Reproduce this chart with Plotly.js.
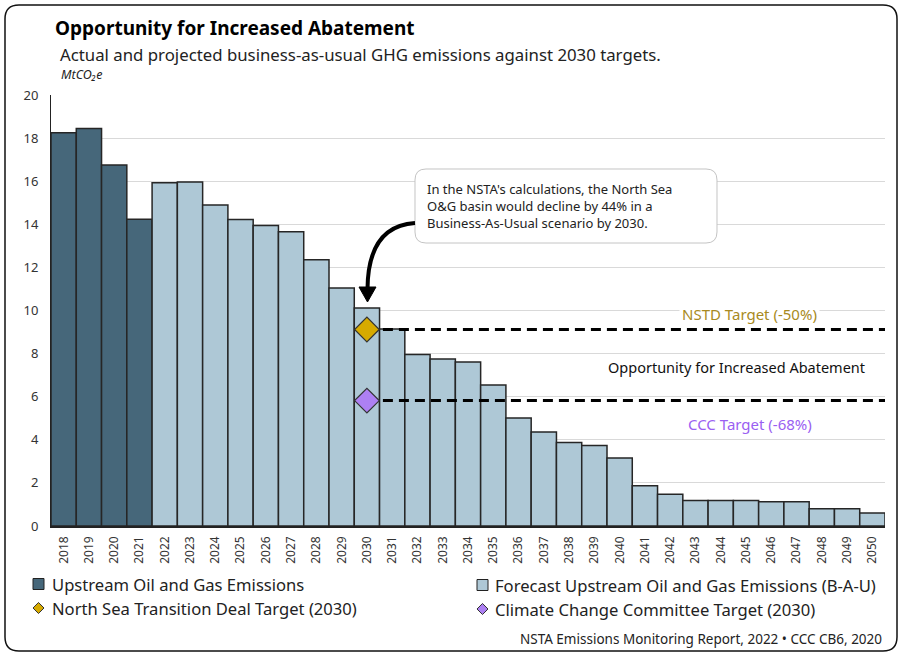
<!DOCTYPE html>
<html><head><meta charset="utf-8">
<script src="https://cdn.plot.ly/plotly-3.0.1.min.js"></script>
<style>html,body{margin:0;padding:0;background:#fff}#chart{width:902px;height:656px}</style>
</head><body><div id="chart"></div>
<script>
// ---- data ----
const actualYears = [2018, 2019, 2020, 2021];
const actualValues = [18.25, 18.45, 16.75, 14.23];
const forecastYears = [2022, 2023, 2024, 2025, 2026, 2027, 2028, 2029, 2030, 2031, 2032, 2033, 2034, 2035, 2036, 2037, 2038, 2039, 2040, 2041, 2042, 2043, 2044, 2045, 2046, 2047, 2048, 2049, 2050];
const forecastValues = [15.93, 15.96, 14.9, 14.22, 13.94, 13.65, 12.35, 11.04, 10.12, 9.14, 7.96, 7.75, 7.61, 6.54, 5.01, 4.36, 3.88, 3.73, 3.16, 1.87, 1.47, 1.18, 1.18, 1.18, 1.12, 1.12, 0.8, 0.8, 0.6];
const targetYear = 2030;
const nstdTarget = 9.12;
const cccTarget = 5.82;
const seriesNames = ['Upstream Oil and Gas Emissions', 'Forecast Upstream Oil and Gas Emissions (B-A-U)', 'North Sea Transition Deal Target (2030)', 'Climate Change Committee Target (2030)'];

// ---- styling / geometry ----
const W = 902, H = 656, M = {l: 51, r: 17, t: 95, b: 130};
const PW = W - M.l - M.r, PH = H - M.t - M.b;
const px = x => (x - M.l) / PW;
const py = y => (H - M.b - y) / PH;
const FONT = 'Noto Sans, Open Sans, sans-serif';
const C = {dark: '#46677a', light: '#aec8d6', edge: '#262626', gold: '#d6aa00', goldText: '#a88a22', purple: '#ad80f3', purpleText: '#9a60f2'};
const firstYear = actualYears[0], lastYear = forecastYears[forecastYears.length - 1];

function roundRect(x0, y0, x1, y1, r) {
  const P = (x, y) => px(x).toFixed(5) + ',' + py(y).toFixed(5);
  return 'M' + P(x0 + r, y0) + ' L' + P(x1 - r, y0) + ' Q' + P(x1, y0) + ' ' + P(x1, y0 + r) +
    ' L' + P(x1, y1 - r) + ' Q' + P(x1, y1) + ' ' + P(x1 - r, y1) +
    ' L' + P(x0 + r, y1) + ' Q' + P(x0, y1) + ' ' + P(x0, y1 - r) +
    ' L' + P(x0, y0 + r) + ' Q' + P(x0, y0) + ' ' + P(x0 + r, y0) + ' Z';
}
function diamondPath(cx, cy, r) {
  const P = (x, y) => px(x).toFixed(5) + ',' + py(y).toFixed(5);
  return 'M' + P(cx, cy - r) + ' L' + P(cx + r, cy) + ' L' + P(cx, cy + r) + ' L' + P(cx - r, cy) + ' Z';
}

const traces = [
  {type: 'bar', x: actualYears, y: actualValues, name: seriesNames[0], width: 1,
   marker: {color: C.dark, line: {color: C.edge, width: 1.5}}, hoverinfo: 'x+y'},
  {type: 'bar', x: forecastYears, y: forecastValues, name: seriesNames[1], width: 1,
   marker: {color: C.light, line: {color: C.edge, width: 1.5}}, hoverinfo: 'x+y'},
  {type: 'scatter', mode: 'lines', x: [targetYear, lastYear + 0.5], y: [nstdTarget, nstdTarget],
   line: {color: '#000', width: 3, dash: '10px,6px'}, hoverinfo: 'skip'},
  {type: 'scatter', mode: 'lines', x: [targetYear, lastYear + 0.5], y: [cccTarget, cccTarget],
   line: {color: '#000', width: 3, dash: '10px,6px'}, hoverinfo: 'skip'},
  {type: 'scatter', mode: 'markers', x: [targetYear], y: [nstdTarget], name: seriesNames[2],
   marker: {symbol: 'diamond', size: 19, color: C.gold, line: {color: '#333', width: 1.2}}},
  {type: 'scatter', mode: 'markers', x: [targetYear], y: [cccTarget], name: seriesNames[3],
   marker: {symbol: 'diamond', size: 19, color: C.purple, line: {color: '#333', width: 1.2}}}
];

// callout & arrow (pixel layout positions)
const box = {x0: 415, y0: 169, x1: 717, y1: 243};
const toX = p => firstYear - 0.5 + (p - M.l) / PW * (lastYear - firstYear + 1);
const toY = p => (H - M.b - p) / PH * 20;

const shapes = [
  {type: 'path', xref: 'paper', yref: 'paper', path: roundRect(5, 5, 897, 651, 14), line: {color: '#111', width: 1.5}, layer: 'above'},
  {type: 'path', xref: 'paper', yref: 'paper', path: roundRect(box.x0, box.y0, box.x1, box.y1, 11), line: {color: '#c4c4c4', width: 1}, fillcolor: '#fff', layer: 'above'},
  {type: 'path', xref: 'x', yref: 'y', layer: 'above', line: {color: '#000', width: 4},
   path: 'M' + toX(box.x0) + ',' + toY(223) + ' Q' + toX(368) + ',' + toY(226) + ' ' + toX(367.5) + ',' + toY(289)},
  {type: 'path', xref: 'x', yref: 'y', layer: 'above', line: {color: '#000', width: 1}, fillcolor: '#000',
   path: 'M' + toX(359) + ',' + toY(287) + ' L' + toX(376) + ',' + toY(287) + ' L' + toX(367.5) + ',' + toY(302) + ' Z'},
  // legend symbols
  {type: 'rect', xref: 'paper', yref: 'paper', x0: px(33), x1: px(44), y0: py(578.5), y1: py(589.5), fillcolor: C.dark, line: {color: '#222', width: 1}},
  {type: 'rect', xref: 'paper', yref: 'paper', x0: px(477), x1: px(488), y0: py(579.5), y1: py(590.5), fillcolor: C.light, line: {color: '#222', width: 1}},
  {type: 'path', xref: 'paper', yref: 'paper', path: diamondPath(38.5, 608, 5.5), fillcolor: C.gold, line: {color: '#333', width: 1}},
  {type: 'path', xref: 'paper', yref: 'paper', path: diamondPath(482.5, 609, 5.5), fillcolor: C.purple, line: {color: '#333', width: 1}}
];

const ann = (o) => Object.assign({xref: 'paper', yref: 'paper', showarrow: false, font: {family: FONT, size: 14, color: '#222'}}, o);
const annotations = [
  ann({x: px(58), y: py(55), xanchor: 'left', yanchor: 'middle', text: 'Actual and projected business-as-usual GHG emissions against 2030 targets.', font: {family: FONT, size: 16.8, color: '#222'}}),
  ann({x: px(59), y: py(75), xanchor: 'left', yanchor: 'middle', text: '<i>MtCO₂e</i>', font: {family: FONT, size: 12.5, color: '#222'}}),
  ann({x: px(box.x0 + 10), y: py(206), xanchor: 'left', yanchor: 'middle', align: 'left',
       text: "In the NSTA's calculations, the North Sea<br>O&amp;G basin would decline by 44% in a<br>Business-As-Usual scenario by 2030.", font: {family: FONT, size: 13, color: '#222'}}),
  ann({x: px(749), y: py(314), xanchor: 'center', yanchor: 'middle', text: 'NSTD Target (-50%)', bgcolor: '#fff', borderpad: 2, font: {family: FONT, size: 15, color: C.goldText}}),
  ann({x: px(736), y: py(367), xanchor: 'center', yanchor: 'middle', text: 'Opportunity for Increased Abatement', font: {family: FONT, size: 14.5, color: '#111'}}),
  ann({x: px(750), y: py(424), xanchor: 'center', yanchor: 'middle', text: 'CCC Target (-68%)', font: {family: FONT, size: 15, color: C.purpleText}}),
  ann({x: px(50), y: py(584), xanchor: 'left', yanchor: 'middle', text: seriesNames[0], font: {family: FONT, size: 16.6, color: '#222'}}),
  ann({x: px(493), y: py(585), xanchor: 'left', yanchor: 'middle', text: seriesNames[1], font: {family: FONT, size: 16.6, color: '#222'}}),
  ann({x: px(50), y: py(608), xanchor: 'left', yanchor: 'middle', text: seriesNames[2], font: {family: FONT, size: 16.6, color: '#222'}}),
  ann({x: px(493), y: py(609), xanchor: 'left', yanchor: 'middle', text: seriesNames[3], font: {family: FONT, size: 16.6, color: '#222'}}),
  ann({x: px(884), y: py(639), xanchor: 'right', yanchor: 'middle', text: 'NSTA Emissions Monitoring Report, 2022 • CCC CB6, 2020', font: {family: FONT, size: 13.5, color: '#222'}})
];

const layout = {
  width: W, height: H, margin: M, paper_bgcolor: '#fff', plot_bgcolor: '#fff',
  showlegend: false, barmode: 'overlay', bargap: 0,
  font: {family: FONT, color: '#333'},
  title: {text: '<b>Opportunity for Increased Abatement</b>', x: 55 / W, xanchor: 'left', xref: 'container',
          y: 1 - 28 / H, yanchor: 'middle', yref: 'container', font: {family: FONT, size: 19, color: '#000'}},
  xaxis: {type: 'linear', range: [firstYear - 0.5, lastYear + 0.5], tickmode: 'linear', tick0: firstYear, dtick: 1,
          tickangle: -90, ticks: 'outside', ticklen: 4, tickcolor: 'rgba(0,0,0,0)', tickfont: {family: FONT, size: 12, color: '#333'},
          showgrid: false, zeroline: false, showline: true, linecolor: '#222', linewidth: 1.5, fixedrange: true},
  yaxis: {range: [0, 20], dtick: 2, ticks: 'outside', ticklen: 9, tickcolor: 'rgba(0,0,0,0)',
          tickfont: {family: FONT, size: 13, color: '#333'}, showgrid: true, gridcolor: '#d9d9d9', gridwidth: 1,
          zeroline: false, showline: true, linecolor: '#222', linewidth: 1, fixedrange: true},
  shapes: shapes, annotations: annotations
};

Plotly.newPlot('chart', traces, layout, {displayModeBar: false, staticPlot: true});
</script>
</body></html>
